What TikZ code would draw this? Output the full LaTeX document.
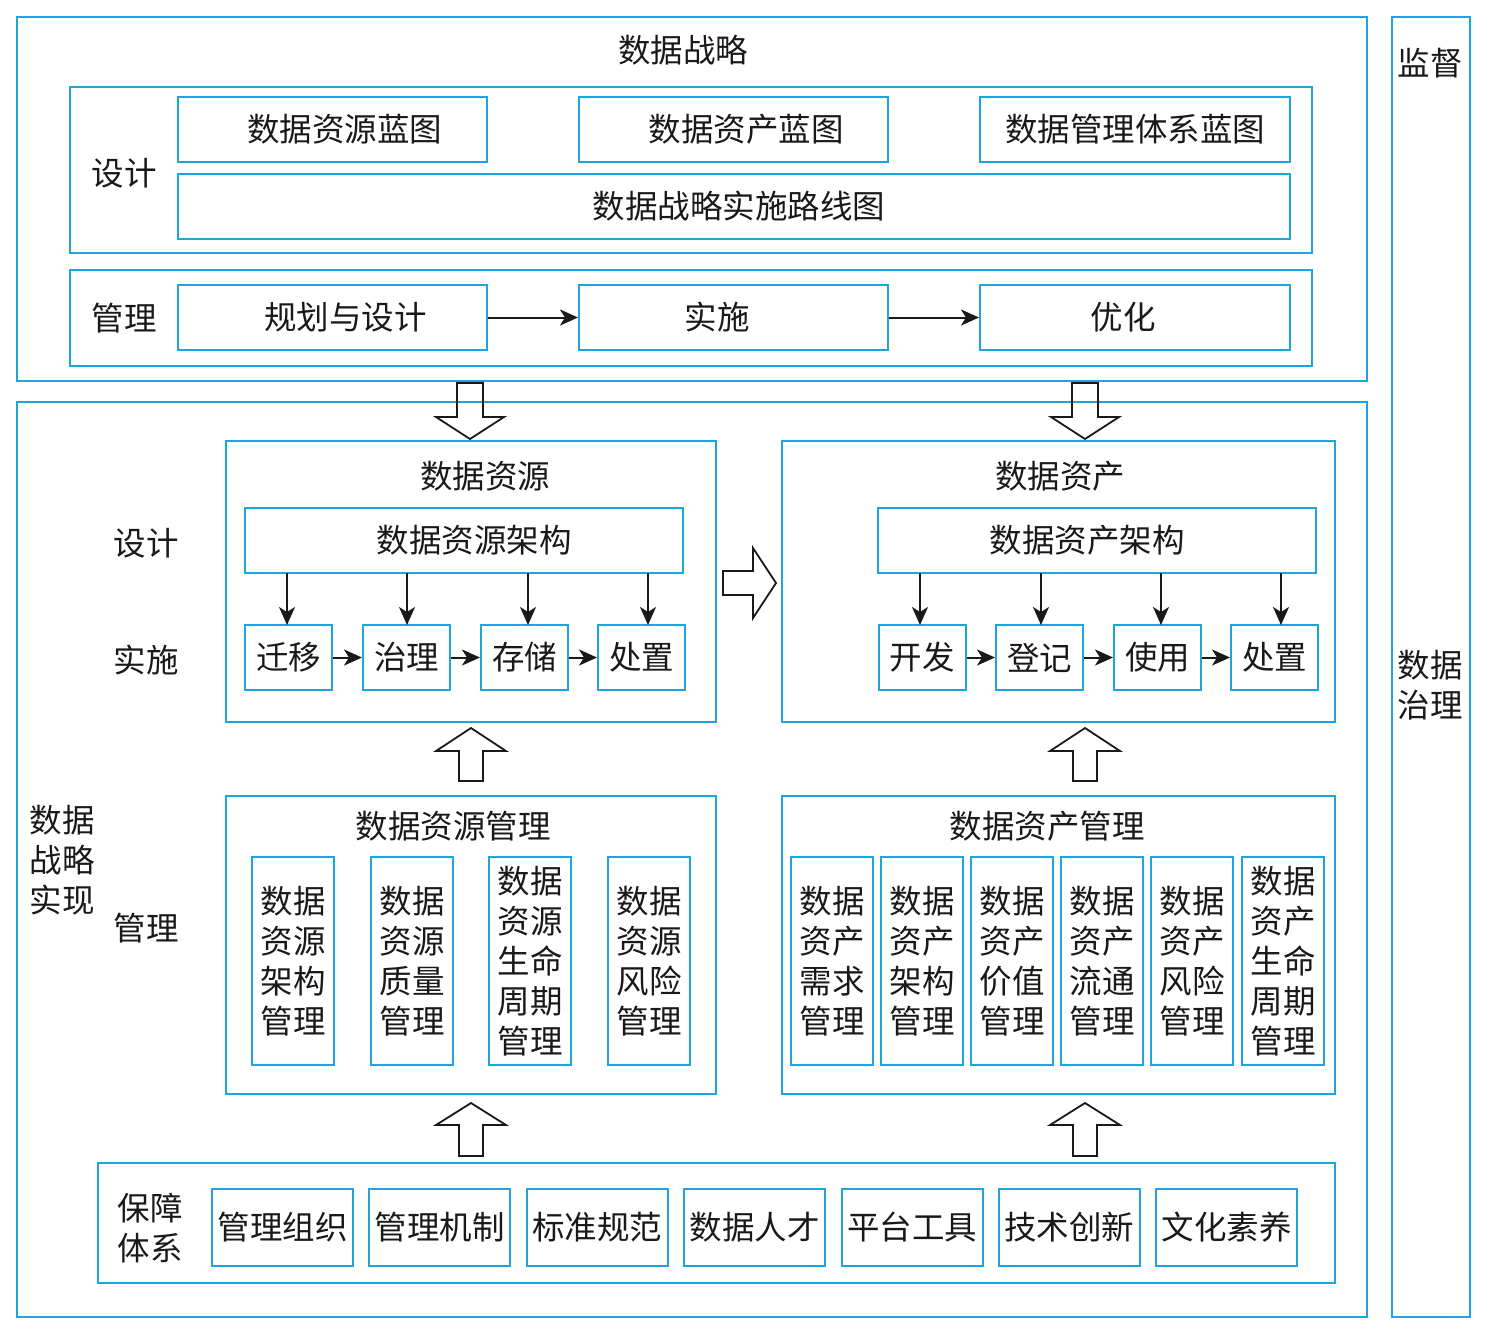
\documentclass[tikz,border=0pt]{standalone}
\usepackage{fontspec}
\setmainfont{Noto Sans CJK SC}
\usetikzlibrary{arrows.meta}
\definecolor{boxblue}{RGB}{30,165,220}

\begin{document}
\begin{tikzpicture}[x=1pt, y=-1pt,
    every node/.style={font=\fontsize{32.5}{40}\selectfont, text=black!90, inner sep=0pt, align=center},
    bluebox/.style={draw=boxblue, line width=2pt, minimum width=#1},
    bluebox/.default=87pt,
    flowarrow/.style={-{Stealth[length=18pt, width=16pt, inset=5pt]}, line width=2pt, black!90},
    hollow/.style={draw=black!90, line width=1.8pt, line join=miter}]
    \useasboundingbox (0,0) rectangle (1487,1334);

    % Outer frames
    \node[bluebox=1350pt, minimum height=364pt] (strat) at (692,199) {};
    \node[bluebox=78pt, minimum height=1300pt] (gov) at (1431,667) {};
    \node[bluebox=1350pt, minimum height=915pt] (real) at (692,859.5) {};
    \node (stratlbl) at (683,50) {数据战略};
    \node (sup) at (1430,63) {监督};
    \node (govlbl) at (1430,685) {数据\\治理};

    % Strategy: design
    \node[bluebox=1242pt, minimum height=166pt] (design) at (691,170) {};
    \node (designlbl) at (124,173) {设计};
    \node[bluebox=309pt, minimum height=65pt] (bp1) at (332.5,129.5) {\hspace*{24pt}数据资源蓝图};
    \node[bluebox=309pt, minimum height=65pt] (bp2) at (733.5,129.5) {\hspace*{25pt}数据资产蓝图};
    \node[bluebox=310pt, minimum height=65pt] (bp3) at (1135,129.5) {数据管理体系蓝图};
    \node[bluebox=1112pt, minimum height=65pt] (road) at (734,206.5) {\hspace*{10pt}数据战略实施路线图};

    % Strategy: management
    \node[bluebox=1242pt, minimum height=96pt] (mgmt) at (691,318) {};
    \node (mgmtlbl) at (124,318) {管理};
    \node[bluebox=309pt, minimum height=65pt] (plan) at (332.5,317.5) {\hspace*{26pt}规划与设计};
    \node[bluebox=309pt, minimum height=65pt] (impl) at (733.5,317.5) {实施\hspace*{33pt}};
    \node[bluebox=310pt, minimum height=65pt] (opt) at (1135,317.5) {优化\hspace*{24pt}};
    \draw[flowarrow] (plan.east) -- (impl.west);
    \draw[flowarrow] (impl.east) -- (opt.west);

    % Hollow arrows from strategy down
    \foreach \c in {470,1085} {
        \draw[hollow] ({\c-13},383) -- ({\c+13},383) -- ({\c+13},417) -- ({\c+34},417)
            -- (\c,439) -- ({\c-34},417) -- ({\c-13},417) -- cycle;
    }

    % Data resources
    \node[bluebox=490pt, minimum height=281pt] (res) at (471,581.5) {};
    \node (reslbl) at (485,476) {数据资源};
    \node[bluebox=438pt, minimum height=65pt] (resarch) at (464,540.5) {\hspace*{20pt}数据资源架构};
    \node (designlbl2) at (146,543) {设计};
    \node (impllbl) at (146,660) {实施};
    \foreach \t/\x [count=\i] in {迁移/288.5, 治理/406.5, 存储/524.5, 处置/641.5} {
        \node[bluebox, minimum height=65pt] (r\i) at (\x,657.5) {\t};
    }
    \foreach \x/\i in {287/1, 407/2, 528/3, 648/4} {
        \draw[flowarrow] (\x,573) -- (\x,625);
    }
    \foreach \i/\j in {1/2, 2/3, 3/4} {
        \draw[flowarrow] (r\i.east) -- (r\j.west);
    }

    % Hollow arrow from resources to assets
    \draw[hollow] (723,571) -- (753,571) -- (753,548) -- (776,583) -- (753,618)
        -- (753,595) -- (723,595) -- cycle;

    % Data assets
    \node[bluebox=553pt, minimum height=281pt] (ast) at (1058.5,581.5) {};
    \node (astlbl) at (1060,476) {数据资产};
    \node[bluebox=438pt, minimum height=65pt] (astarch) at (1097,540.5) {数据资产架构\hspace*{20pt}};
    \foreach \t/\x [count=\i] in {开发/922, 登记/1039.5, 使用/1157.5, 处置/1274.5} {
        \node[bluebox, minimum height=65pt] (a\i) at (\x,657.5) {\t};
    }
    \foreach \x in {920,1041,1161,1281} {
        \draw[flowarrow] (\x,573) -- (\x,625);
    }
    \foreach \i/\j in {1/2, 2/3, 3/4} {
        \draw[flowarrow] (a\i.east) -- (a\j.west);
    }

    % Hollow arrows up (management -> resources/assets, guarantee -> management)
    \foreach \c/\tip/\base/\bot in {471/728/751/781, 1085/728/751/781, 471/1103/1125/1156, 1085/1103/1125/1156} {
        \draw[hollow] ({\c-12},\bot) -- ({\c-12},\base) -- ({\c-35},\base) -- (\c,\tip)
            -- ({\c+35},\base) -- ({\c+12},\base) -- ({\c+12},\bot) -- cycle;
    }

    % Management of resources and assets
    \node (reallbl) at (62,860) {数据\\战略\\实现};
    \node (mgmtlbl2) at (146,928) {管理};
    \node[bluebox=490pt, minimum height=298pt] (resm) at (471,945) {};
    \node (resmlbl) at (453,826) {数据资源管理};
    \foreach \t/\x [count=\i] in {数据\\资源\\架构\\管理/293, 数据\\资源\\质量\\管理/412,
        数据\\资源\\生命\\周期\\管理/530, 数据\\资源\\风险\\管理/649} {
        \node[bluebox=82pt, minimum height=208pt] (rm\i) at (\x,961) {\t};
    }
    \node[bluebox=553pt, minimum height=298pt] (astm) at (1058.5,945) {};
    \node (astmlbl) at (1047,826) {数据资产管理};
    \foreach \t/\x [count=\i] in {数据\\资产\\需求\\管理/832, 数据\\资产\\架构\\管理/922,
        数据\\资产\\价值\\管理/1012, 数据\\资产\\流通\\管理/1102,
        数据\\资产\\风险\\管理/1192, 数据\\资产\\生命\\周期\\管理/1283} {
        \node[bluebox=82pt, minimum height=208pt] (am\i) at (\x,961) {\t};
    }

    % Guarantee system
    \node[bluebox=1237pt, minimum height=120pt] (guar) at (716.5,1223) {};
    \node (guarlbl) at (150,1228) {保障\\体系};
    \foreach \t/\x [count=\i] in {管理组织/282.5, 管理机制/439.5, 标准规范/597, 数据人才/754.5,
        平台工具/912, 技术创新/1069, 文化素养/1226.5} {
        \node[bluebox=141pt, minimum height=77pt] (g\i) at (\x,1227.5) {\t};
    }
\end{tikzpicture}
\end{document}
